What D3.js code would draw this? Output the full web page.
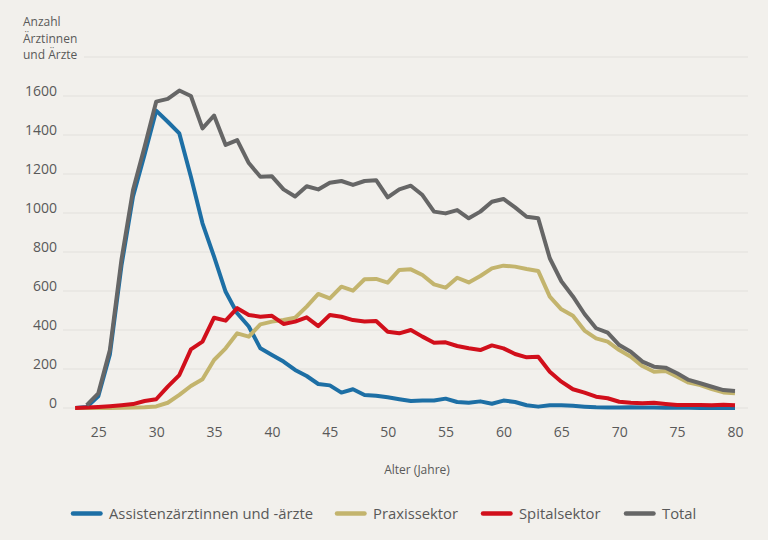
<!DOCTYPE html>
<html>
<head>
<meta charset="utf-8">
<script src="https://cdn.jsdelivr.net/npm/d3@7"></script>
<style>
  html, body { margin: 0; padding: 0; background: #f2f0ec; }
  svg { display: block; }
  text { font-family: "Open Sans", "Lato", sans-serif; fill: #595959; }
</style>
</head>
<body>
<svg id="chart" width="768" height="540"></svg>
<script>
// ---- data ----
const ages = d3.range(23, 81);
const yTicks = [0, 200, 400, 600, 800, 1000, 1200, 1400, 1600];
const xTicks = [25, 30, 35, 40, 45, 50, 55, 60, 65, 70, 75, 80];
const seriesNames = ["Assistenzärztinnen und -ärzte", "Praxissektor", "Spitalsektor", "Total"];
const yTitleLines = ["Anzahl", "Ärztinnen", "und Ärzte"];

const assistenz = [0, 5, 60, 275, 730, 1085, 1300, 1525, 1468, 1408, 1186, 947, 776, 596, 486, 418,
  306, 272, 238, 195, 164, 123, 116, 79, 96, 67, 63, 55, 45, 36, 38, 38, 48, 31, 27, 34, 22, 38, 31,
  14, 7, 14, 14, 11, 7, 4, 3, 3, 4, 2, 2, 1, 1, 1, 0, 0, 0, 0];
const praxis = [0, 0, 0, 0, 1, 2, 4, 8, 27, 67, 113, 147, 246, 306, 383, 366, 429, 443, 451, 463,
  520, 585, 562, 622, 602, 660, 662, 643, 708, 711, 682, 634, 617, 668, 644, 677, 716, 730, 725,
  713, 703, 571, 506, 473, 397, 357, 340, 297, 263, 215, 186, 190, 161, 130, 118, 97, 80, 75];
const spital = [0, 2, 5, 9, 14, 20, 36, 45, 110, 169, 301, 340, 463, 448, 512, 477, 468, 473, 431,
  443, 465, 420, 477, 468, 451, 444, 446, 391, 383, 400, 366, 335, 337, 318, 306, 297, 321, 306,
  277, 260, 263, 186, 135, 96, 79, 58, 50, 32, 27, 24, 27, 21, 15, 15, 15, 14, 17, 14];
const total = [null, 15, 75, 297, 760, 1118, 1340, 1571, 1585, 1628, 1600, 1434, 1500, 1349, 1374,
  1256, 1186, 1188, 1121, 1085, 1137, 1121, 1155, 1164, 1144, 1164, 1168, 1080, 1121, 1140, 1092,
  1007, 998, 1015, 973, 1007, 1058, 1072, 1029, 981, 973, 768, 650, 572, 482, 409, 386, 323, 289,
  238, 212, 207, 178, 144, 127, 109, 92, 87];

const colors = ["#1d6fa5", "#c3b46d", "#d10f1b", "#666666"];
const seriesValues = [assistenz, praxis, spital, total];

// ---- layout ----
const svg = d3.select("#chart");
const x = d3.scaleLinear().domain([25, 80]).range([98.3, 735]);
const y = d3.scaleLinear().domain([0, 1800]).range([408, 57]);

// gridlines
const grid = svg.append("g");
grid.selectAll("line.g").data(yTicks).join("line")
  .attr("x1", 63).attr("x2", 748)
  .attr("y1", d => y(d)).attr("y2", d => y(d))
  .attr("stroke", "#e2e0dc").attr("stroke-width", 1);
grid.append("line")
  .attr("x1", 84).attr("x2", 748)
  .attr("y1", y(1800)).attr("y2", y(1800))
  .attr("stroke", "#e2e0dc").attr("stroke-width", 1);

// y tick labels
const yAxis = d3.axisLeft(y).tickValues(yTicks).tickSize(0).tickPadding(0).tickFormat(d3.format("d"));
const gy = svg.append("g").attr("transform", "translate(57,-4.5)").call(yAxis);
gy.select(".domain").remove();
gy.selectAll("text").style("font-size", "14px").attr("fill", "#595959")
  .style("font-family", "'Open Sans', sans-serif");

// y title (three separate lines)
svg.append("g").selectAll("text").data(yTitleLines).join("text")
  .attr("x", 23).attr("y", (d, i) => 26 + i * 16.5)
  .style("font-size", "12px")
  .text(d => d);

// x tick labels
const xAxis = d3.axisBottom(x).tickValues(xTicks).tickSize(0).tickPadding(0).tickFormat(d3.format("d"));
const gx = svg.append("g").attr("transform", "translate(0,427)").call(xAxis);
gx.select(".domain").remove();
gx.selectAll("text").style("font-size", "14px").attr("fill", "#595959")
  .style("font-family", "'Open Sans', sans-serif");

// x title
svg.append("text").attr("x", 417).attr("y", 474).attr("text-anchor", "middle")
  .style("font-size", "12px").text("Alter (Jahre)");

// lines
const line = d3.line()
  .defined(d => d[1] !== null)
  .x(d => x(d[0]))
  .y(d => y(d[1]));

seriesValues.forEach((vals, i) => {
  svg.append("path")
    .datum(ages.map((a, j) => [a, vals[j]]))
    .attr("fill", "none")
    .attr("stroke", colors[i])
    .attr("stroke-width", 4)
    .attr("stroke-linejoin", "round")
    .attr("d", line);
});

// legend
const legendX = [73, 337, 483, 626];
const leg = svg.append("g");
seriesNames.forEach((name, i) => {
  leg.append("line")
    .attr("x1", legendX[i]).attr("x2", legendX[i] + 27.5)
    .attr("y1", 513.5).attr("y2", 513.5)
    .attr("stroke", colors[i]).attr("stroke-width", 4.5).attr("stroke-linecap", "round");
  leg.append("text")
    .attr("x", legendX[i] + 36).attr("y", 519)
    .style("font-size", "14.8px")
    .text(name);
});
</script>
</body>
</html>
